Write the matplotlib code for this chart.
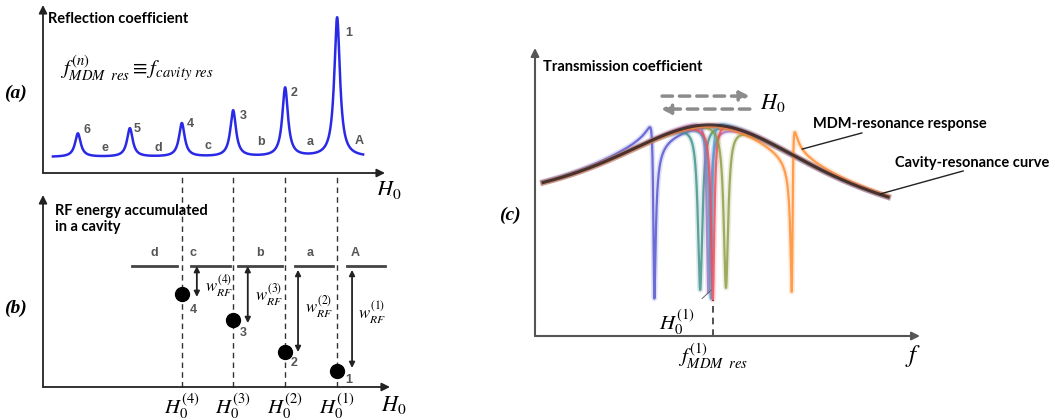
import numpy as np
import matplotlib
matplotlib.use('Agg')
import matplotlib.pyplot as plt

plt.rcParams['mathtext.fontset'] = 'stix'
plt.rcParams['font.family'] = ['Lato', 'DejaVu Sans']

# ---- (a) reflection coefficient vs H0
peak_h0 = [8.60, 7.08, 5.56, 4.06, 2.54, 1.02]
peak_amp = [0.83, 0.41, 0.275, 0.20, 0.17, 0.14]
peak_names = ['1', '2', '3', '4', '5', '6']
peak_label_x = [8.95, 7.34, 5.85, 4.30, 2.75, 1.29]
peak_label_y = [0.833, 0.476, 0.339, 0.292, 0.262, 0.256]
gap_names = ['A', 'a', 'b', 'c', 'd', 'e']
gap_label_x = [9.24, 7.81, 6.37, 4.82, 3.36, 1.81]
gap_label_y = [0.19, 0.185, 0.185, 0.161, 0.149, 0.149]
refl_base = 0.095
refl_width = 0.10

# ---- (b) RF energy levels
level_names = ['A', 'a', 'b', 'c', 'd']
level_left = [8.89, 7.37, 5.70, 4.33, 2.60]
level_right = [10.0, 8.48, 6.99, 5.47, 3.92]
level_label_x = [9.12, 7.81, 6.35, 4.39, 3.27]
level_y = 0.63
energy_y = [0.083, 0.182, 0.349, 0.484]          # points 1..4
energy_label_x = [8.95, 7.34, 5.85, 4.39]
energy_label_y = [0.036, 0.125, 0.28, 0.40]
w_x = [9.04, 7.46, 5.99, 4.50]
w_top = [0.61, 0.61, 0.63, 0.63]
w_bottom = [0.099, 0.182, 0.333, 0.469]
w_label_x = [9.21, 7.66, 6.20, 4.74]
w_label_y = [0.385, 0.42, 0.48, 0.53]

# ---- (c) transmission coefficient vs f
cav_f0 = 4.62
cav_base = 0.371
cav_amp = 0.362
cav_width = 3.5
cav_slope = -0.005
mdm_f0 = [3.09, 4.29, 4.50, 4.57, 4.62, 4.96, 6.68]
mdm_q = [-0.30, 0.0, -0.1, 0.1, 0.05, 0.0, 0.42]
mdm_gamma = [0.035, 0.07, 0.05, 0.04, 0.05, 0.07, 0.03]
mdm_bottom = [0.13, 0.16, 0.15, 0.13, 0.125, 0.167, 0.153]
mdm_colors = ['#5050d0', '#3a9088', '#a070c0', '#40a8e0', '#ee4a55', '#8c9a40', '#ff8a2a']

fig = plt.figure(figsize=(10.55, 4.2), dpi=100)
ax_a = fig.add_axes([43 / 1055, 1 - 173 / 420, 342 / 1055, 168 / 420])
ax_b = fig.add_axes([43 / 1055, 1 - 387 / 420, 347 / 1055, 192 / 420])
ax_c = fig.add_axes([535 / 1055, 1 - 336 / 420, 385 / 1055, 288 / 420])


def arrow_axes(ax, color, lw):
    for sp in ax.spines.values():
        sp.set_visible(False)
    for xy, xyt in [((0, 1), (0, 0)), ((1, 0), (0, 0))]:
        ax.annotate('', xy=xy, xytext=xyt, xycoords='axes fraction',
                    arrowprops=dict(arrowstyle='-|>', color=color, lw=lw,
                                    mutation_scale=12, shrinkA=0, shrinkB=0))


serif_it = dict(family='Liberation Serif', style='italic', weight='bold')
small = dict(fontsize=9, color='#555555', weight='bold', family='Liberation Sans',
             ha='center', va='center')

# (a)
ax_a.set_xlim(0, 10)
ax_a.set_ylim(0, 1)
arrow_axes(ax_a, '#222222', 1.3)
ax_a.set_xticks([])
ax_a.set_yticks([])
h = np.linspace(0.29, 9.36, 3000)
refl = refl_base + sum(a / (1 + ((h - p) / refl_width) ** 2) for p, a in zip(peak_h0, peak_amp))
ax_a.plot(h, refl, color='#2a2ae6', lw=1.8)
for n, x, y in zip(peak_names, peak_label_x, peak_label_y):
    ax_a.text(x, y, n, **small)
for n, x, y in zip(gap_names, gap_label_x, gap_label_y):
    ax_a.text(x, y, n, **small)
ax_a.text(0.146, 0.917, 'Reflection coefficient', fontsize=10.5, weight='bold', ha='left', va='center')
ax_a.text(0.5, 0.625, r'$f^{(n)}_{MDM\ \ res}\equiv f_{cavity\ res}$', fontsize=15,
          ha='left', va='center')
ax_a.text(10.1, -0.10, r'$H_0$', fontsize=16, ha='center', va='center')
fig.text(15 / 1055, 1 - 93 / 420, '(a)', fontsize=14, ha='center', va='center', **serif_it)

# (b)
ax_b.set_xlim(0, 10.15)
ax_b.set_ylim(0, 1)
arrow_axes(ax_b, '#222222', 1.3)
ax_b.set_yticks([])
ax_b.set_xticks(peak_h0[:4])
ax_b.set_xticklabels([r'$H_0^{(%d)}$' % (i + 1) for i in range(4)], fontsize=15)
ax_b.tick_params(axis='x', length=0, pad=3)
for x in peak_h0[:4]:
    ax_b.plot([x, x], [0, 1.104], color='#333333', lw=1.0, ls=(0, (4, 3)), clip_on=False)
for n, l, r, xl in zip(level_names, level_left, level_right, level_label_x):
    ax_b.plot([l, r], [level_y, level_y], color='#444444', lw=2)
    ax_b.text(xl, 0.70, n, **small)
ax_b.plot(peak_h0[:4], energy_y, 'o', color='black', ms=10, zorder=5)
for i, (x, y) in enumerate(zip(energy_label_x, energy_label_y)):
    ax_b.text(x, y, str(i + 1), **small)
for i in range(4):
    ax_b.annotate('', xy=(w_x[i], w_bottom[i]), xytext=(w_x[i], w_top[i]),
                  arrowprops=dict(arrowstyle='<|-|>', color='#222222', lw=1.3,
                                  mutation_scale=8, shrinkA=0, shrinkB=0))
    ax_b.text(w_label_x[i], w_label_y[i], r'$w_{RF}^{(%d)}$' % (i + 1), fontsize=12,
              ha='left', va='center')
ax_b.text(0.35, 0.955, 'RF energy accumulated\nin a cavity', fontsize=10.5, weight='bold',
          ha='left', va='top', linespacing=1.2)
ax_b.text(10.25, -0.094, r'$H_0$', fontsize=16, ha='center', va='center')
fig.text(15 / 1055, 1 - 308 / 420, '(b)', fontsize=14, ha='center', va='center', **serif_it)

# (c)
ax_c.set_xlim(0, 10)
ax_c.set_ylim(0, 1)
arrow_axes(ax_c, '#555555', 1.5)
ax_c.set_yticks([])
ax_c.set_xticks([cav_f0])
ax_c.set_xticklabels([r'$f^{(1)}_{MDM\ \ res}$'], fontsize=15)
ax_c.tick_params(axis='x', length=0, pad=4)


def cavity(f):
    return cav_base + cav_slope * (f - cav_f0) + cav_amp / (1 + ((f - cav_f0) / cav_width) ** 2)


f = np.linspace(0.21, 9.17, 60000)
for f0, q, g, bot, col in zip(mdm_f0, mdm_q, mdm_gamma, mdm_bottom, mdm_colors):
    eps = (f - f0) / g
    fano = (eps + q) ** 2 / (1 + eps ** 2)
    r = bot / cavity(f0)
    d = r / (1 - r)
    t = cavity(f) * (fano + d) / (1 + d)
    ax_c.plot(f, t, color=col, lw=4, alpha=0.18)
    ax_c.plot(f, t, color=col, lw=1.6, alpha=0.8)
ax_c.plot(f, cavity(f), color='#d07080', lw=4.5, alpha=0.25)
ax_c.plot(f, cavity(f), color='#3a2a2a', lw=2.2, alpha=0.9)

ax_c.plot([cav_f0, cav_f0], [0, mdm_bottom[4]], color='#333333', lw=1.2, ls=(0, (4, 3)))
ax_c.annotate(r'$H_0^{(1)}$', xy=(4.58, 0.16), xytext=(3.69, 0.049), fontsize=15,
              ha='center', va='center',
              arrowprops=dict(arrowstyle='-', color='#666666', lw=0.7, shrinkA=6, shrinkB=0))
ax_c.annotate('', xy=(5.58, 0.833), xytext=(3.30, 0.833),
              arrowprops=dict(arrowstyle='-|>', color='#8c8c8c', lw=2.5, ls=(0, (3, 2)),
                              mutation_scale=14, shrinkA=0, shrinkB=0))
ax_c.annotate('', xy=(3.27, 0.788), xytext=(5.58, 0.788),
              arrowprops=dict(arrowstyle='-|>', color='#8c8c8c', lw=2.5, ls=(0, (3, 2)),
                              mutation_scale=14, shrinkA=0, shrinkB=0))
ax_c.text(5.84, 0.81, r'$H_0$', fontsize=16, ha='left', va='center')
ax_c.text(0.21, 0.935, 'Transmission coefficient', fontsize=10.5, weight='bold', ha='left', va='center')
ax_c.plot([6.94, 8.49], [0.649, 0.705], color='#222222', lw=1)
ax_c.text(7.22, 0.736, 'MDM-resonance response', fontsize=10.5, weight='bold', ha='left', va='center')
ax_c.plot([8.96, 11.12], [0.493, 0.573], color='#222222', lw=1, clip_on=False)
ax_c.text(9.35, 0.60, 'Cavity-resonance curve', fontsize=10.5, weight='bold', ha='left', va='center')
ax_c.text(9.82, -0.07, r'$f$', fontsize=18, ha='center', va='center')
fig.text(510 / 1055, 1 - 215 / 420, '(c)', fontsize=14, ha='center', va='center', **serif_it)

fig.savefig('out.png', dpi=100)
